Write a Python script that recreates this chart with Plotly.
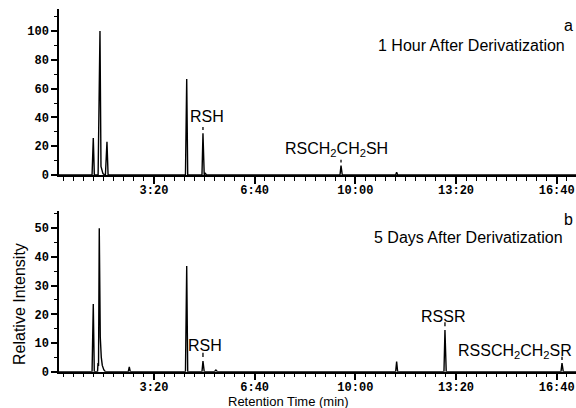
import plotly.graph_objects as go

# ---- data (time in seconds, relative intensity) ----
top_time = [11.3, 77.0, 79.4, 81.5, 89.0, 92.7, 94.7, 96.6, 98.6, 101.0, 103.5, 106.6, 108.8,
            262.5, 265.0, 267.0, 295.3, 297.3, 299.8, 301.3, 302.8, 304.3,
            569.5, 571.5, 574.0, 680.0, 682.0, 684.0, 1038.3]
top_int = [0, 0, 25.7, 0, 0, 100, 6, 2.5, 1.0, 0.3, 0, 23, 0,
           0, 66.7, 0, 0, 29, 0, 1.5, 0, 0,
           0, 6.5, 0, 0, 2.0, 0, 0]

bot_time = [11.3, 77.0, 79.4, 81.4, 87.8, 88.8, 89.8, 91.3, 93.3, 95.3, 97.3, 100.3, 103.3,
            148.9, 150.9, 152.9, 262.5, 265.0, 267.0, 295.3, 297.3, 299.8,
            320.0, 323.0, 326.0, 680.0, 682.0, 684.0, 776.0, 778.0, 780.5,
            1008.5, 1010.5, 1013.0, 1038.3]
bot_int = [0, 0, 23.6, 0, 0, 3.0, 2.0, 50, 12, 5, 2.2, 0.7, 0,
           0, 1.7, 0, 0, 36.8, 0, 0, 3.7, 0,
           0, 0.6, 0, 0, 3.5, 0, 0, 14.5, 0,
           0, 3.0, 0, 0]

# small dash marks drawn above the labelled peaks
mark_top_time = [297.3, 571.5]
mark_top_lo = [31.3, 8.6]
mark_top_hi = [33.3, 10.6]
mark_bot_time = [297.3, 778.0, 1010.5]
mark_bot_lo = [5.1, 15.8, 4.1]
mark_bot_hi = [6.6, 17.2, 5.2]

tick_secs = [200, 400, 600, 800, 1000]
tick_text = ["3:20", "6:40", "10:00", "13:20", "16:40"]
top_yticks = [0, 20, 40, 60, 80, 100]
bot_yticks = [0, 10, 20, 30, 40, 50]

X0, X1 = 11.3, 1038.3
W, H = 576, 408
L = 59
PW = W - L

fig = go.Figure()
line_style = dict(color="black", width=1.4)
fig.add_trace(go.Scatter(x=top_time, y=top_int, mode="lines", line=line_style,
                         xaxis="x", yaxis="y", hoverinfo="skip"))
fig.add_trace(go.Scatter(x=bot_time, y=bot_int, mode="lines", line=line_style,
                         xaxis="x2", yaxis="y2", hoverinfo="skip"))


def dashes(ts, lo, hi):
    xs, ys = [], []
    for t, a, b in zip(ts, lo, hi):
        xs += [t, t, None]
        ys += [a, b, None]
    return xs, ys


mx, my = dashes(mark_top_time, mark_top_lo, mark_top_hi)
fig.add_trace(go.Scatter(x=mx, y=my, mode="lines", line=dict(color="black", width=1.3),
                         xaxis="x", yaxis="y", hoverinfo="skip"))
mx, my = dashes(mark_bot_time, mark_bot_lo, mark_bot_hi)
fig.add_trace(go.Scatter(x=mx, y=my, mode="lines", line=dict(color="black", width=1.3),
                         xaxis="x2", yaxis="y2", hoverinfo="skip"))

tickfont = dict(family="Liberation Mono, Courier New, monospace", size=12,
                color="black", weight="bold")

xcommon = dict(range=[X0, X1], domain=[0, 1], showline=True, linecolor="black",
               linewidth=1.5, ticks="outside", ticklen=7, tickwidth=1.5,
               tickcolor="black", tickmode="array", tickvals=tick_secs,
               ticktext=tick_text, tickfont=tickfont, showgrid=False,
               zeroline=False, automargin=False, ticklabeloverflow="allow",
               ticklabelstandoff=-4,
               minor=dict(ticks="outside", ticklen=4, tickwidth=1.2,
                          tickcolor="black", tickmode="linear", tick0=0,
                          dtick=20, showgrid=False))

ycommon = dict(showline=True, linecolor="black", linewidth=1.5, ticks="outside",
               ticklen=6, tickwidth=1.5, tickcolor="black", tickfont=tickfont,
               showgrid=False, zeroline=False, automargin=False, tickmode="array",
               ticklabeloverflow="allow")

top_dom = [1 - 175 / H, 1 - 9 / H]
bot_dom = [1 - 371.7 / H, 1 - 210.7 / H]

fig.update_layout(
    width=W, height=H,
    margin=dict(l=L, r=0, t=0, b=0),
    paper_bgcolor="white", plot_bgcolor="white",
    showlegend=False,
    xaxis=dict(**xcommon, anchor="y"),
    xaxis2=dict(**xcommon, anchor="y2"),
    yaxis=dict(**ycommon, domain=top_dom, range=[0, 115.3], tickvals=top_yticks,
               anchor="x",
               minor=dict(ticks="outside", ticklen=3, tickwidth=1.2, tickcolor="black",
                          tickmode="linear", tick0=0, dtick=10, showgrid=False)),
    yaxis2=dict(**ycommon, domain=bot_dom, range=[0, 56.1], tickvals=bot_yticks,
                anchor="x2",
                minor=dict(ticks="outside", ticklen=3, tickwidth=1.2, tickcolor="black",
                           tickmode="linear", tick0=0, dtick=5, showgrid=False)),
)

# x-axis lines extend slightly left of the y axes
for yr in ["y", "y2"]:
    fig.add_shape(type="line", xref="paper", yref=yr, x0=-6 / PW, x1=0, y0=0, y1=0,
                  line=dict(color="black", width=1.5))

sans = "Liberation Sans, Arial, sans-serif"


def px_x(p):
    return (p - L) / PW


def px_y(p):
    return 1 - p / H


annots = [
    dict(text="a", x=px_x(568), y=px_y(25), xref="paper", yref="paper",
         xanchor="center", yanchor="middle", font=dict(family=sans, size=16)),
    dict(text="1 Hour After Derivatization", x=px_x(567), y=px_y(45), xref="paper",
         yref="paper", xanchor="right", yanchor="middle", font=dict(family=sans, size=16)),
    dict(text="b", x=px_x(568), y=px_y(219), xref="paper", yref="paper",
         xanchor="center", yanchor="middle", font=dict(family=sans, size=16)),
    dict(text="5 Days After Derivatization", x=px_x(565), y=px_y(237), xref="paper",
         yref="paper", xanchor="right", yanchor="middle", font=dict(family=sans, size=16)),
    dict(text="Relative Intensity", x=px_x(19), y=px_y(304), xref="paper", yref="paper",
         xanchor="center", yanchor="middle", textangle=-90,
         font=dict(family=sans, size=16)),
    dict(text="Retention Time (min)", x=px_x(288), y=px_y(401), xref="paper",
         yref="paper", xanchor="center", yanchor="middle",
         font=dict(family=sans, size=13)),
    dict(text="RSH", x=305, y=40.3, xref="x", yref="y", xanchor="center",
         yanchor="middle", font=dict(family=sans, size=16)),
    dict(text="RSCH<sub>2</sub>CH<sub>2</sub>SH", x=563.5, y=17.4, xref="x", yref="y",
         xanchor="center", yanchor="middle", font=dict(family=sans, size=16)),
    dict(text="RSH", x=301, y=9.3, xref="x2", yref="y2", xanchor="center",
         yanchor="middle", font=dict(family=sans, size=16)),
    dict(text="RSSR", x=774, y=19.4, xref="x2", yref="y2", xanchor="center",
         yanchor="middle", font=dict(family=sans, size=16)),
    dict(text="RSSCH<sub>2</sub>CH<sub>2</sub>SR", x=1034, y=7.2, xref="x2",
         yref="y2", xanchor="right", yanchor="middle", font=dict(family=sans, size=16)),
]
for a in annots:
    a["showarrow"] = False
    a["font"]["color"] = "black"
    fig.add_annotation(**a)

fig.write_html("out.html")
